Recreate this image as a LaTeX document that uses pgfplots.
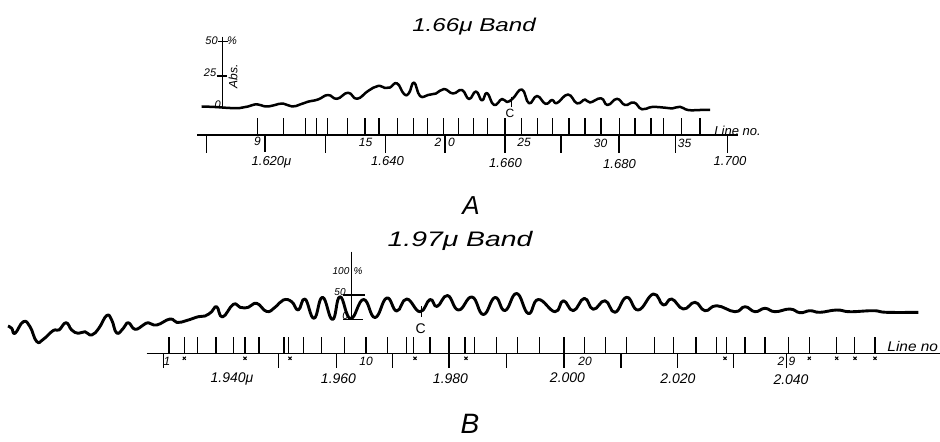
\documentclass[border=0pt]{standalone}
\usepackage{fontspec}
\setmainfont{Liberation Sans}
\usepackage{pgfplots}
\pgfplotsset{compat=1.18}

% everything is placed in the reference's pixel frame: x 0..940, y 0..441 (downwards)
\pgfplotstableread{
x y u v
257.7 135 0 -17
283.3 135 0 -17
305.7 135 0 -17
316.7 135 0 -17
327.3 135 0 -17
347.7 135 0 -17
365.0 135 0 -17
379.0 135 0 -17
397.7 135 0 -17
413.3 135 0 -17
427.3 135 0 -17
443.3 135 0 -17
458.3 135 0 -17
473.3 135 0 -17
487.3 135 0 -17
505.0 135 0 -17
521.7 135 0 -17
537.7 135 0 -17
552.3 135 0 -17
569.0 135 0 -17
585.0 135 0 -17
601.0 135 0 -17
619.3 135 0 -17
635.0 135 0 -17
651.0 135 0 -17
663.3 135 0 -17
681.7 135 0 -17
700.0 135 0 -17
206.7 135 0 18
265.0 135 0 17
325.7 135 0 18
385.7 135 0 18
445.0 135 0 18
505.0 135 0 18
561.0 135 0 18
619.0 135 0 18
675.7 135 0 18
727.7 135 0 18
222.7 36.7 0 70
218.0 41.7 9.5 0
216.7 76.0 10 0
511.7 97.0 0 10
}\ticksA

\pgfplotstableread{
x y u v
169.0 353.3 0 -16.6
184.3 353.3 0 -16.6
197.3 353.3 0 -16.6
216.0 353.3 0 -16.6
233.3 353.3 0 -16.6
245.0 353.3 0 -16.6
259.0 353.3 0 -16.6
284.0 353.3 0 -16.6
288.7 353.3 0 -16.6
303.3 353.3 0 -16.6
321.7 353.3 0 -16.6
344.3 353.3 0 -16.6
366.0 353.3 0 -16.6
387.7 353.3 0 -16.6
406.7 353.3 0 -16.6
413.3 353.3 0 -16.6
430.0 353.3 0 -16.6
449.0 353.3 0 -16.6
465.0 353.3 0 -16.6
474.3 353.3 0 -16.6
496.7 353.3 0 -16.6
517.3 353.3 0 -16.6
539.3 353.3 0 -16.6
564.0 353.3 0 -16.6
584.3 353.3 0 -16.6
605.7 353.3 0 -16.6
626.7 353.3 0 -16.6
654.3 353.3 0 -16.6
673.3 353.3 0 -16.6
696.0 353.3 0 -16.6
716.7 353.3 0 -16.6
726.7 353.3 0 -16.6
745.0 353.3 0 -16.6
765.0 353.3 0 -16.6
788.3 353.3 0 -16.6
809.3 353.3 0 -16.6
836.7 353.3 0 -16.6
854.3 353.3 0 -16.6
875.0 353.3 0 -16.6
163.3 353.3 0 15
278.3 353.3 0 15
336.7 353.3 0 15
392.7 353.3 0 15
449.0 353.3 0 15
506.7 353.3 0 15
564.0 353.3 0 15
621.0 353.3 0 15
677.3 353.3 0 15
733.3 353.3 0 15
786.7 353.3 0 15
351.7 251.7 0 68.3
343.0 295.0 22 0
343.0 319.5 20 0
421.7 306.0 0 11
}\ticksB

\begin{document}
\begin{tikzpicture}
\begin{axis}[scale only axis, width=470pt, height=220.5pt,
  xmin=0, xmax=940, ymin=0, ymax=441, y dir=reverse,
  hide axis, clip=false]

% ---- A: 1.66 micron band ----
\addplot[black, line width=1.25pt, smooth, tension=0.8, line join=round] coordinates {
(201.7,106.5) (215,107) (230,108) (240,108) (248,106.5) (257,104.3) (266,106.5)
(275,105) (283,103.5) (292,106.5) (300,104.5) (308,101.7) (318,99.5) (328,95)
(337,98.8) (348,92.7) (357,98.8) (368,91) (378,86) (385,88) (390,87.5) (397,83.3)
(404,94) (409,93) (414,82.5) (420,96) (428,95) (436,93.5) (444,89) (453,93.5)
(462,90) (469,99) (476,91.5) (482,100.5) (487,93) (494,105) (502,99) (507,102)
(513,98.3) (522,89.5) (529,103.3) (537,96) (545.5,103.8) (552,100) (557,103)
(568,94.5) (577,103.3) (585,99.5) (590,102.5) (601,98.3) (607.5,105) (617,98.8)
(625,105) (634,102.5) (642,109.3) (652,107) (665,107.7) (672,108.5) (680,106.8)
(688,110) (700,110) (710,110)
};
\addplot[black, line width=0.6pt] coordinates {(197,135) (738,135)};
\addplot[black, line width=0.6pt, line cap=butt, mark=none, quiver={u=\thisrow{u}, v=\thisrow{v}}] table {\ticksA};

% ---- B: 1.97 micron band ----
\addplot[black, line width=1.45pt, smooth, tension=0.8, line join=round] coordinates {
(8,326) (11.7,328.3) (15,333.3) (23.3,321.7) (30,326.7) (36.7,341.5) (43.3,339.3)
(53.3,330.5) (59,330) (66,322.7) (71.7,330) (78.3,333.3) (85,331.7)
(91.7,335) (99,328) (106.7,315.5) (111.7,320) (116.7,333) (123.3,328.3) (128.3,322.7)
(135,329.3) (143.3,325) (148.3,322.7) (156.7,325) (170,319) (177,322.5) (186.7,320.5)
(198.3,316.7) (205,316) (211.7,311.7) (216.7,306.7) (222.5,317) (233.3,304.3) (240,307.3)
(248.3,307.3) (256.7,303.3) (266.7,311.5) (275,307.3) (283.3,300) (291.7,301.7)
(298.3,310) (305,299) (314,318.3) (322.5,297.3) (332.5,319.5) (340,296.7) (350.5,318.5)
(363.5,299.5) (375,317.5) (386.7,298) (396.7,311) (406.7,299) (420,311.7) (430,299.5)
(437,306.5) (447.5,295.5) (458.5,310) (472,297) (483.3,314.5) (495,297.5) (505,310.5)
(516.7,293.5) (528.3,313.5) (538.3,299.5) (555,311.7) (563.3,300.7) (573.3,310.7)
(584.3,298.3) (593.3,309.3) (605,300.7) (615,312.3) (626.7,297.3) (638.3,310)
(653.3,294) (663.3,305) (671.7,299) (683.3,309) (695,302.3) (705,310.7) (716.7,305.7)
(735,311.7) (745,306.7) (755,311.7) (765,308.3) (775,311.7) (790,309) (800,312.7)
(810,310.7) (820,312.3) (836.7,310) (850,311.7) (873.3,310.7) (886.7,312.3) (918.3,312.3)
};
\addplot[black, line width=0.6pt] coordinates {(146.7,353.3) (940,353.3)};
\addplot[black, line width=0.6pt, line cap=butt, mark=none, quiver={u=\thisrow{u}, v=\thisrow{v}}] table {\ticksB};
% lines marked with a cross
\addplot[black, only marks, mark=x, mark size=1.1pt, line width=0.5pt] coordinates {
(184.3,358.3) (245,358.3) (290,358.3) (415,358.3) (466,358.3)
(725,358.3) (809.3,358.3) (836.7,358.3) (855,358.3) (875,358.3)
};

% ---- text ----
\begin{scope}[every node/.style={font=\itshape, inner sep=0pt}]
\node[font=\fontsize{9.3}{10}\selectfont\itshape, xscale=1.3, anchor=base] at (axis cs:474,31.7) {1.66μ Band};
\node[font=\fontsize{10.5}{11}\selectfont\itshape, xscale=1.35, anchor=base] at (axis cs:460,246.7) {1.97μ Band};
\node[font=\fontsize{13}{14}\selectfont\itshape, anchor=base] at (axis cs:471,214) {A};
\node[font=\fontsize{14}{15}\selectfont\itshape, anchor=base] at (axis cs:470,433) {B};
% A scale labels
\node[font=\fontsize{5.5}{6}\selectfont\itshape] at (axis cs:211.5,41) {50};
\node[font=\fontsize{5.5}{6}\selectfont\itshape] at (axis cs:232,41) {\%};
\node[font=\fontsize{5.5}{6}\selectfont\itshape] at (axis cs:210,73) {25};
\node[font=\fontsize{5.5}{6}\selectfont\itshape] at (axis cs:217.7,104.5) {0};
\node[font=\fontsize{6}{6}\selectfont\itshape, rotate=90] at (axis cs:233,76.5) {Abs.};
\node[font=\fontsize{6}{6}\selectfont] at (axis cs:510,113.5) {C};
\node[font=\fontsize{6}{6}\selectfont\itshape] at (axis cs:257.5,141.5) {9};
\node[font=\fontsize{6}{6}\selectfont\itshape] at (axis cs:365.5,142.5) {15};
\node[font=\fontsize{6}{6}\selectfont\itshape] at (axis cs:438,142.5) {2};
\node[font=\fontsize{6}{6}\selectfont\itshape] at (axis cs:451.5,142.5) {0};
\node[font=\fontsize{6}{6}\selectfont\itshape] at (axis cs:524,142.5) {25};
\node[font=\fontsize{6}{6}\selectfont\itshape] at (axis cs:600.5,143) {30};
\node[font=\fontsize{6}{6}\selectfont\itshape] at (axis cs:684.5,143) {35};
\node[font=\fontsize{6.5}{7}\selectfont\itshape, anchor=west] at (axis cs:714,131) {Line no.};
\node[font=\fontsize{6.5}{7}\selectfont\itshape] at (axis cs:271.5,162.5) {1.620μ};
\node[font=\fontsize{6.5}{7}\selectfont\itshape] at (axis cs:387.5,161.5) {1.640};
\node[font=\fontsize{6.5}{7}\selectfont\itshape] at (axis cs:505.5,163) {1.660};
\node[font=\fontsize{6.5}{7}\selectfont\itshape] at (axis cs:619.5,164) {1.680};
\node[font=\fontsize{6.5}{7}\selectfont\itshape] at (axis cs:730,161.5) {1.700};
% B scale labels
\node[font=\fontsize{5}{5}\selectfont\itshape] at (axis cs:341,271.5) {100};
\node[font=\fontsize{5}{5}\selectfont\itshape] at (axis cs:358,271.5) {\%};
\node[font=\fontsize{5}{5}\selectfont\itshape] at (axis cs:340,292.5) {50};
\node[font=\fontsize{5.5}{6}\selectfont\itshape] at (axis cs:345.5,315.5) {0};
\node[font=\fontsize{7}{7}\selectfont] at (axis cs:420.7,329) {C};
\node[font=\fontsize{6}{6}\selectfont\itshape] at (axis cs:167,361.5) {1};
\node[font=\fontsize{6}{6}\selectfont\itshape] at (axis cs:366,361.5) {10};
\node[font=\fontsize{6}{6}\selectfont\itshape] at (axis cs:585,361) {20};
\node[font=\fontsize{6}{6}\selectfont\itshape] at (axis cs:781,361) {2};
\node[font=\fontsize{6}{6}\selectfont\itshape] at (axis cs:792,361) {9};
\node[font=\fontsize{7}{7}\selectfont\itshape, anchor=west, xscale=1.1] at (axis cs:887,346) {Line no};
\node[font=\fontsize{7}{7}\selectfont\itshape] at (axis cs:232,379) {1.940μ};
\node[font=\fontsize{7}{7}\selectfont\itshape] at (axis cs:338.5,379) {1.960};
\node[font=\fontsize{7}{7}\selectfont\itshape] at (axis cs:450.5,379) {1.980};
\node[font=\fontsize{7}{7}\selectfont\itshape] at (axis cs:567.5,378) {2.000};
\node[font=\fontsize{7}{7}\selectfont\itshape] at (axis cs:678,378.5) {2.020};
\node[font=\fontsize{7}{7}\selectfont\itshape] at (axis cs:791,379.5) {2.040};
\end{scope}
\end{axis}
\pgfresetboundingbox
\path (0,0) rectangle (470pt,220.5pt);
\end{tikzpicture}
\end{document}
